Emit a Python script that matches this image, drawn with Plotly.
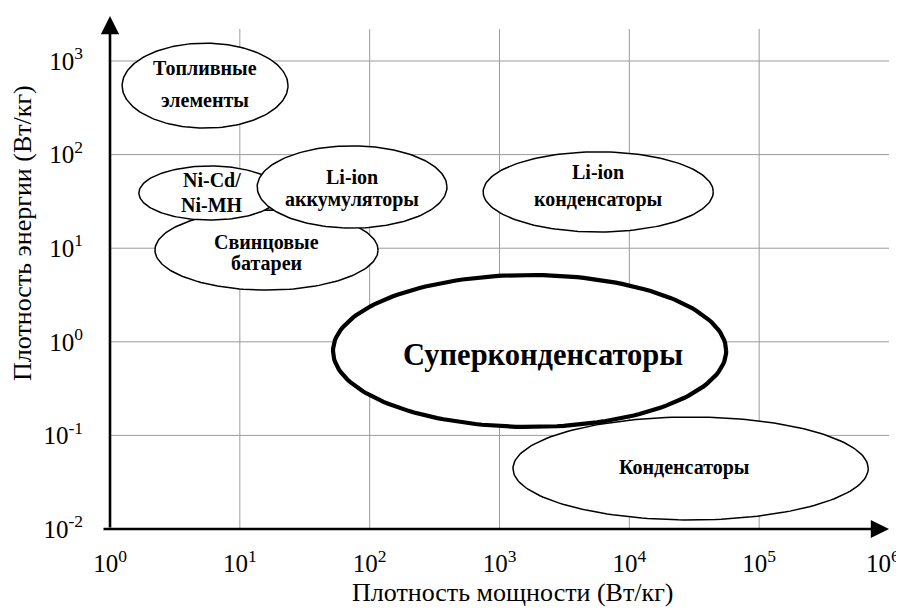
import numpy as np
import plotly.graph_objects as go

# ---------------- data ----------------
label_lines = [
    ["Топливные", "элементы"],
    ["Свинцовые", "батареи"],
    ["Ni-Cd/", "Ni-MH"],
    ["Li-ion", "аккумуляторы"],
    ["Li-ion", "конденсаторы"],
    ["Суперконденсаторы"],
    ["Конденсаторы"],
]
power_min = [1.24, 2.22, 1.67, 13.6, 748, 52.2, 1270]        # Вт/кг
power_max = [23.5, 116, 20.7, 394, 44300, 55700, 692000]
energy_min = [192, 3.57, 20.0, 16.4, 14.9, 0.123, 0.0125]
energy_max = [1550, 25.6, 75.5, 124, 107, 5.18, 0.157]

x_tick_vals = [1, 10, 100, 1e3, 1e4, 1e5, 1e6]
x_tick_text = ["10<sup>0</sup>", "10<sup>1</sup>", "10<sup>2</sup>", "10<sup>3</sup>",
               "10<sup>4</sup>", "10<sup>5</sup>", "10<sup>6</sup>"]
y_tick_vals = [0.01, 0.1, 1, 10, 100, 1000]
y_tick_text = ["10<sup>-2</sup>", "10<sup>-1</sup>", "10<sup>0</sup>", "10<sup>1</sup>",
               "10<sup>2</sup>", "10<sup>3</sup>"]

x_title = "Плотность мощности (Вт/кг)"
y_title = "Плотность энергии (Вт/кг)"

# ---------------- style ----------------
FONT = "Liberation Serif"
X_RANGE = [0, 6]
Y_RANGE = [-2, 3.342]
line_widths = [1.5, 1.5, 1.5, 1.5, 1.5, 4.2, 1.5]
label_sizes = [20, 20, 20, 20, 20, 30.5, 20]
label_yshift = [[17.5, -14.5], [8, -13], [13, -12], [10, -13], [20, -8], [-4], [1]]
label_xshift = [0, 0, 2, 0, 0, 13, -6]

fig = go.Figure()

# grid lines
gx, gy = [], []
for xv in x_tick_vals[:-1]:
    gx += [xv, xv, None]
    gy += [10 ** Y_RANGE[0], 10 ** Y_RANGE[1], None]
for yv in y_tick_vals[1:]:
    gx += [10 ** X_RANGE[0], 10 ** X_RANGE[1], None]
    gy += [yv, yv, None]
fig.add_trace(go.Scatter(x=gx, y=gy, mode="lines", line=dict(color="#9c9c9c", width=1),
                         hoverinfo="skip", showlegend=False, cliponaxis=False))

# ellipses
t = np.linspace(0, 2 * np.pi, 181)
annotations = []
for i, lines in enumerate(label_lines):
    lx0, lx1 = np.log10(power_min[i]), np.log10(power_max[i])
    ly0, ly1 = np.log10(energy_min[i]), np.log10(energy_max[i])
    cx, cy = (lx0 + lx1) / 2, (ly0 + ly1) / 2
    rx, ry = (lx1 - lx0) / 2, (ly1 - ly0) / 2
    ex = 10 ** (cx + rx * np.cos(t))
    ey = 10 ** (cy + ry * np.sin(t))
    fig.add_trace(go.Scatter(x=ex, y=ey, mode="lines", fill="toself", fillcolor="white",
                             line=dict(color="black", width=line_widths[i]),
                             hoverinfo="skip", showlegend=False))
    for j, txt in enumerate(lines):
        annotations.append(dict(
            x=cx, y=cy, xref="x", yref="y", text=txt, showarrow=False,
            xanchor="center", yanchor="middle",
            xshift=label_xshift[i], yshift=label_yshift[i][j],
            font=dict(family=FONT, size=label_sizes[i], color="black", weight="bold")))

# axis arrows
annotations.append(dict(x=0, y=1.026, xref="paper", yref="paper", ax=0, ay=513,
                        axref="pixel", ayref="pixel", text="", showarrow=True,
                        arrowhead=2, arrowsize=1.4, arrowwidth=2.6, arrowcolor="black"))
annotations.append(dict(x=1.0, y=0, xref="paper", yref="paper", ax=-787, ay=0,
                        axref="pixel", ayref="pixel", text="", showarrow=True,
                        arrowhead=2, arrowsize=1.4, arrowwidth=2.6, arrowcolor="black"))

# axis titles
annotations.append(dict(x=0.517, y=-0.126, xref="paper", yref="paper", text=x_title,
                        xanchor="center", yanchor="middle",
                        showarrow=False, font=dict(family=FONT, size=26, color="black")))
annotations.append(dict(x=-0.113, y=0.592, xref="paper", yref="paper", text=y_title,
                        xanchor="center", yanchor="middle",
                        textangle=-90, showarrow=False,
                        font=dict(family=FONT, size=26, color="black")))

x_tick_text_shown = x_tick_text[:-1] + [x_tick_text[-1] + "&nbsp;&nbsp;"]

# the page body adds an 8px offset; margins compensate for it
fig.update_layout(
    width=904, height=610,
    margin=dict(l=102, r=23, t=21, b=89, autoexpand=False),
    paper_bgcolor="white", plot_bgcolor="white",
    showlegend=False,
    annotations=annotations,
    xaxis=dict(type="log", range=X_RANGE, tickvals=x_tick_vals, ticktext=x_tick_text_shown,
               showgrid=False, zeroline=False, showline=False, ticks="",
               ticklabelstandoff=17, ticklabeloverflow="allow", automargin=False,
               tickfont=dict(family=FONT, size=25, color="black"), fixedrange=True),
    yaxis=dict(type="log", range=Y_RANGE, tickvals=y_tick_vals, ticktext=y_tick_text,
               showgrid=False, zeroline=False, showline=False, ticks="",
               ticklabelstandoff=26, automargin=False,
               tickfont=dict(family=FONT, size=25, color="black"), fixedrange=True),
)

fig.write_html("out.html")
